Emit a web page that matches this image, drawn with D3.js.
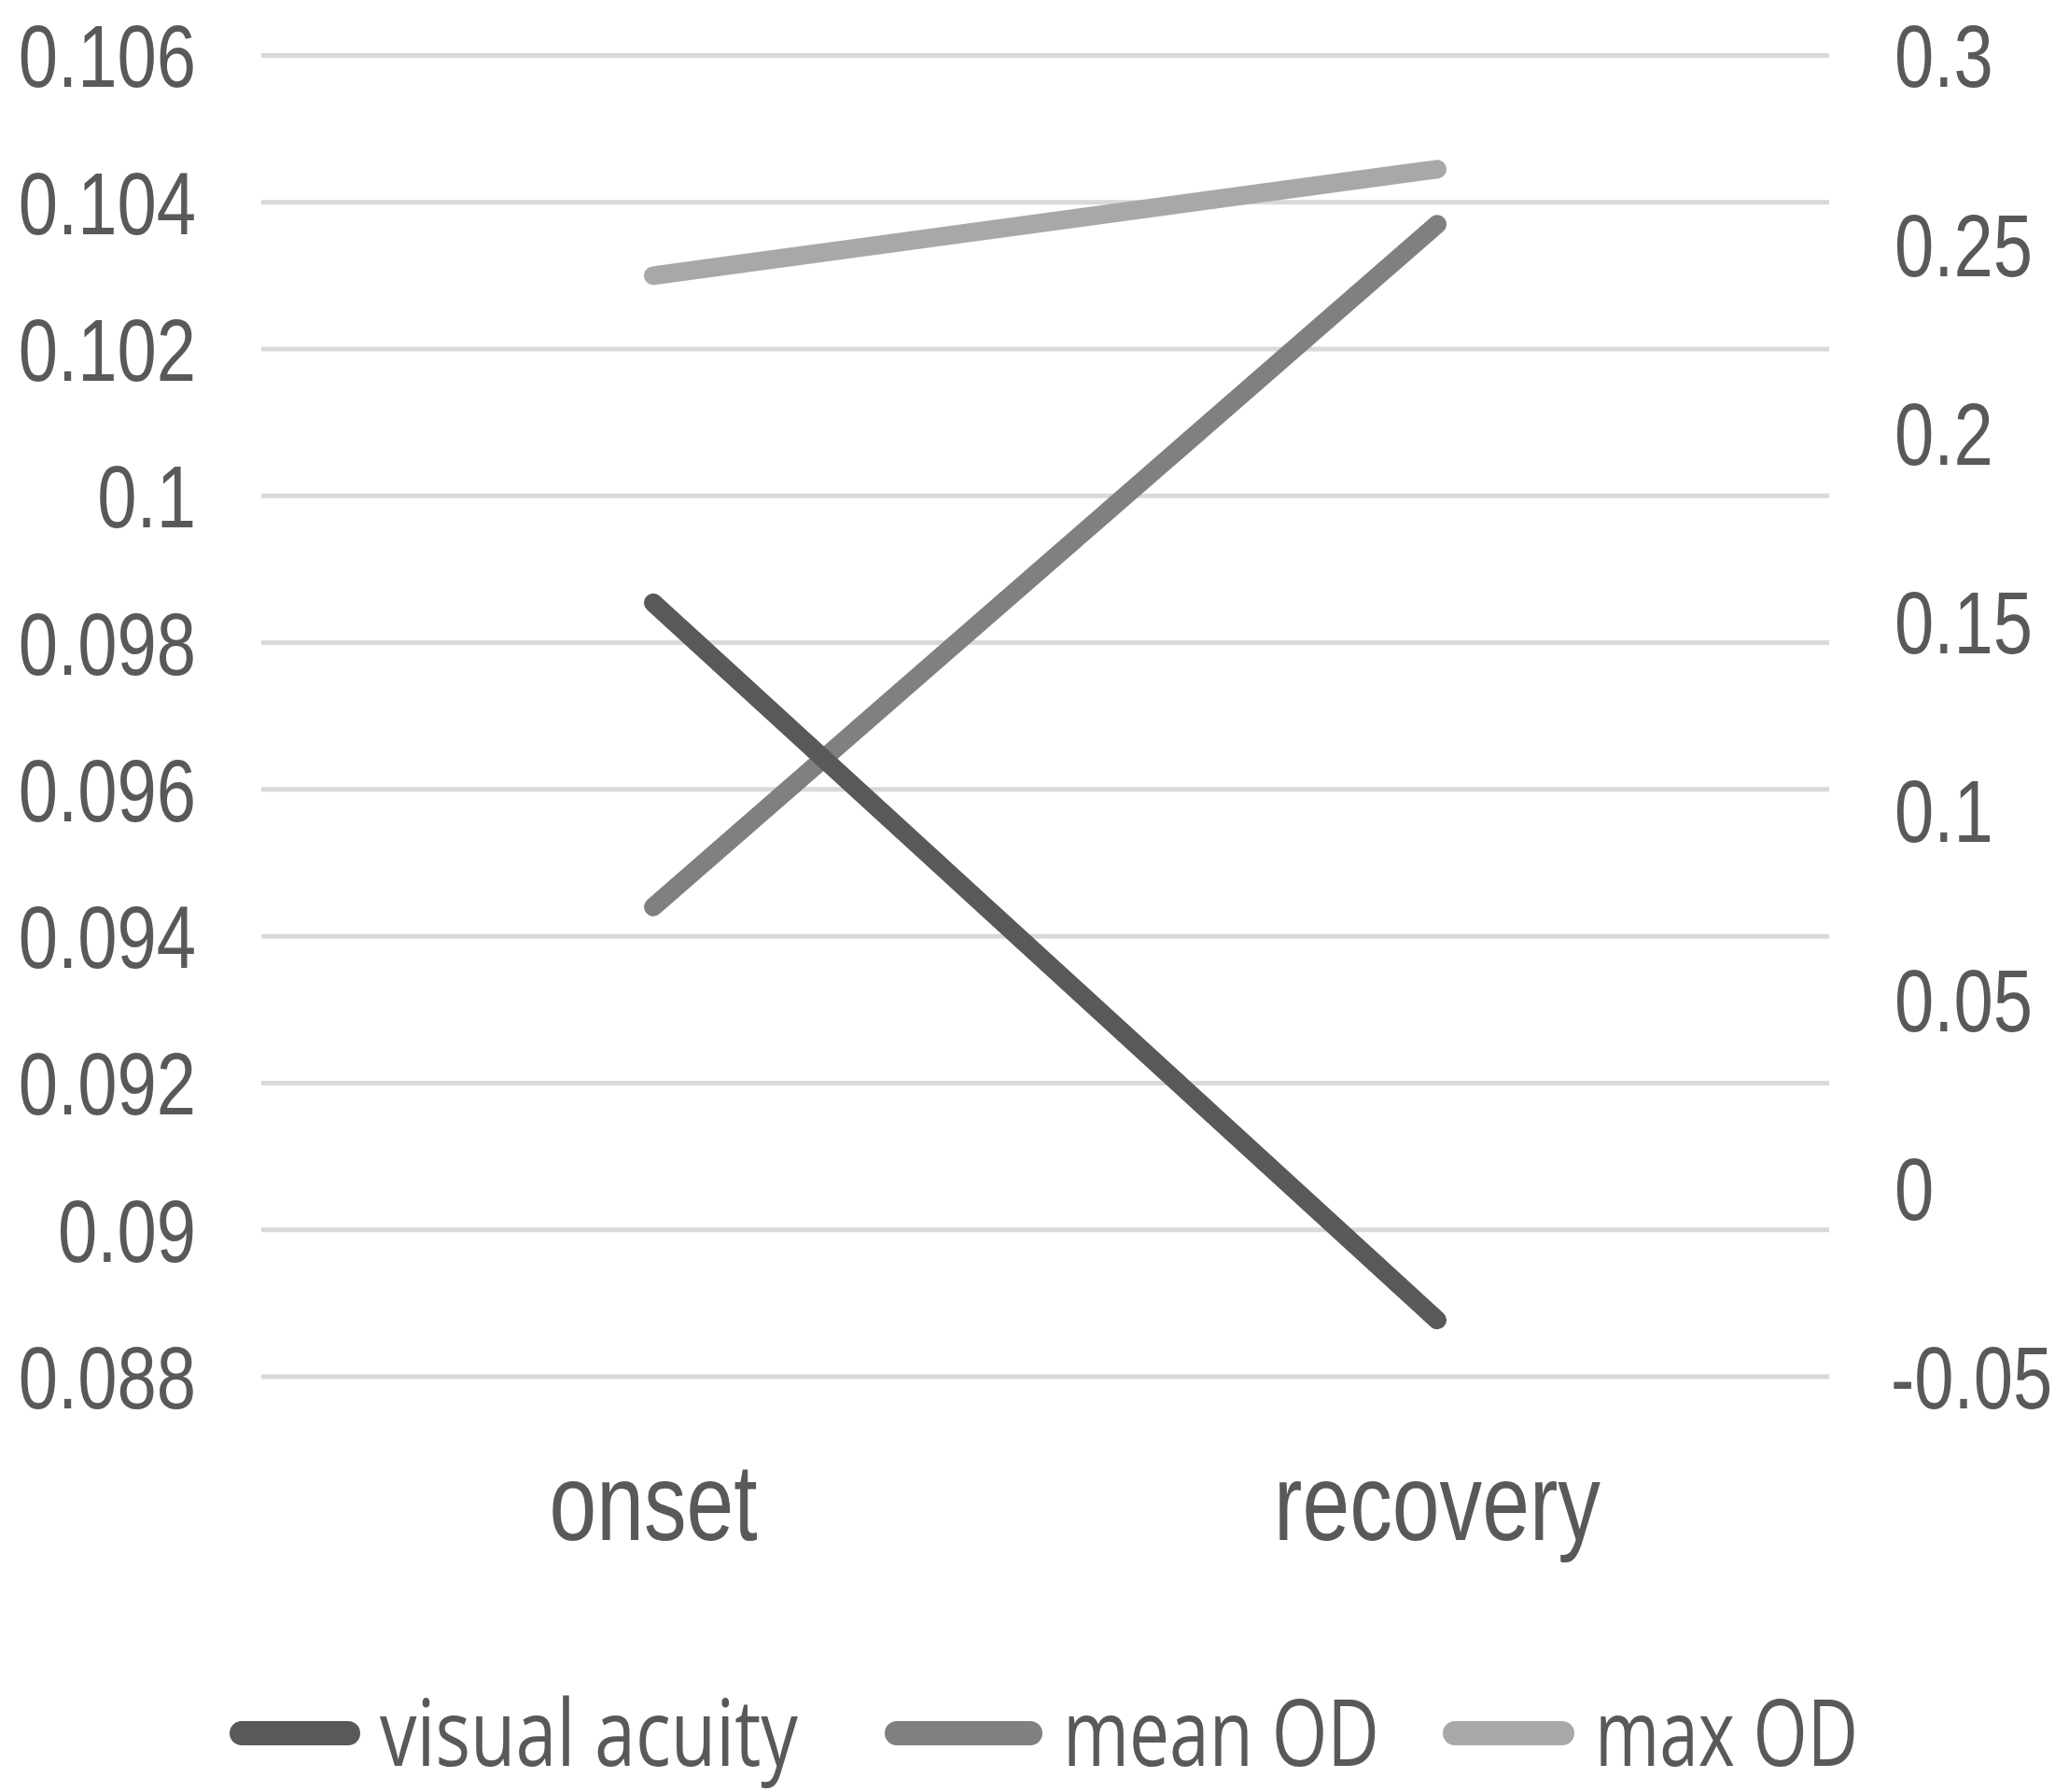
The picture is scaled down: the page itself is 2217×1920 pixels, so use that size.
<!DOCTYPE html>
<html>
<head>
<meta charset="utf-8">
<script src="https://cdn.jsdelivr.net/npm/d3@7/dist/d3.min.js"></script>
<style>
html,body{margin:0;padding:0;background:#fff;}
svg{display:block;}
</style>
</head>
<body>
<svg id="chart" width="2217" height="1920"></svg>
<script>
// ---- data ----
const categories = ["onset", "recovery"];
const visualAcuity = [0.155, -0.035];   // right axis
const meanOD = [0.0944, 0.1037];        // left axis
const maxOD = [0.1030, 0.10445];        // left axis
const leftTicks = [0.088, 0.09, 0.092, 0.094, 0.096, 0.098, 0.1, 0.102, 0.104, 0.106];
const rightTicks = [-0.05, 0, 0.05, 0.1, 0.15, 0.2, 0.25, 0.3];
const seriesNames = ["visual acuity", "mean OD", "max OD"];

// ---- layout ----
const plot = {left: 280, right: 1960, top: 59.4, bottom: 1475};
const textColor = "#595959";
const colors = {"visual acuity": "#595959", "mean OD": "#808080", "max OD": "#a8a8a8"};

const svg = d3.select("#chart");

const x = d3.scalePoint().domain(categories).range([plot.left, plot.right]).padding(0.5);
const yL = d3.scaleLinear().domain([0.088, 0.106]).range([plot.bottom, plot.top]);
const yR = d3.scaleLinear().domain([-0.05, 0.3]).range([plot.bottom, plot.top]);

const fmt = d => String(+d.toFixed(4));

// gridlines
svg.append("g").selectAll("line").data(leftTicks).join("line")
  .attr("x1", plot.left).attr("x2", plot.right)
  .attr("y1", d => yL(d)).attr("y2", d => yL(d))
  .attr("stroke", "#d9d9d9").attr("stroke-width", 5);

const tickFont = "'Liberation Sans', Arial, sans-serif";
const tickSize = 95, tickSX = 0.8;

// left axis labels
svg.append("g").selectAll("text").data(leftTicks).join("text")
  .attr("transform", d => `translate(210,${yL(d) + 0.358 * tickSize}) scale(${tickSX},1)`)
  .attr("text-anchor", "end")
  .attr("font-family", tickFont).attr("font-size", tickSize).attr("fill", textColor)
  .text(fmt);

// right axis labels
svg.append("g").selectAll("text").data(rightTicks).join("text")
  .attr("transform", d => `translate(${d < 0 ? 2026 : 2030},${yR(d) + 0.358 * tickSize}) scale(${tickSX},1)`)
  .attr("text-anchor", "start")
  .attr("font-family", tickFont).attr("font-size", tickSize).attr("fill", textColor)
  .text(fmt);

// category labels
const catSize = 117, catSX = 0.78;
svg.append("g").selectAll("text").data(categories).join("text")
  .attr("transform", d => `translate(${x(d)},1650) scale(${catSX},1)`)
  .attr("text-anchor", "middle")
  .attr("font-family", tickFont).attr("font-size", catSize).attr("fill", textColor)
  .text(d => d);

// series lines
const series = [
  {name: "max OD", values: maxOD, y: yL},
  {name: "mean OD", values: meanOD, y: yL},
  {name: "visual acuity", values: visualAcuity, y: yR}
];
const lineGen = (yScale) => d3.line().x((d, i) => x(categories[i])).y(d => yScale(d));
svg.append("g").selectAll("path").data(series).join("path")
  .attr("d", s => lineGen(s.y)(s.values))
  .attr("fill", "none")
  .attr("stroke", s => colors[s.name])
  .attr("stroke-width", 20)
  .attr("stroke-linecap", "round")
  .attr("stroke-linejoin", "round");

// legend
const legendItems = [
  {name: seriesNames[0], x1: 259, x2: 373, tx: 407, tw: 448},
  {name: seriesNames[1], x1: 961, x2: 1104, tx: 1139, tw: 339},
  {name: seriesNames[2], x1: 1559, x2: 1674, tx: 1709, tw: 282}
];
const legY = 1857;
const lg = svg.append("g");
lg.selectAll("line").data(legendItems).join("line")
  .attr("x1", d => d.x1).attr("x2", d => d.x2)
  .attr("y1", legY).attr("y2", legY)
  .attr("stroke", d => colors[d.name]).attr("stroke-width", 26)
  .attr("stroke-linecap", "round");
const legSize = 98;
lg.selectAll("text").data(legendItems).join("text")
  .attr("font-family", "'Open Sans', sans-serif").attr("font-size", legSize).attr("fill", textColor)
  .text(d => d.name)
  .each(function(d) {
    const w = this.getComputedTextLength();
    const sx = d.tw / w;
    d3.select(this).attr("transform", `translate(${d.tx},1892) scale(${sx},1)`);
  });
</script>
</body>
</html>
